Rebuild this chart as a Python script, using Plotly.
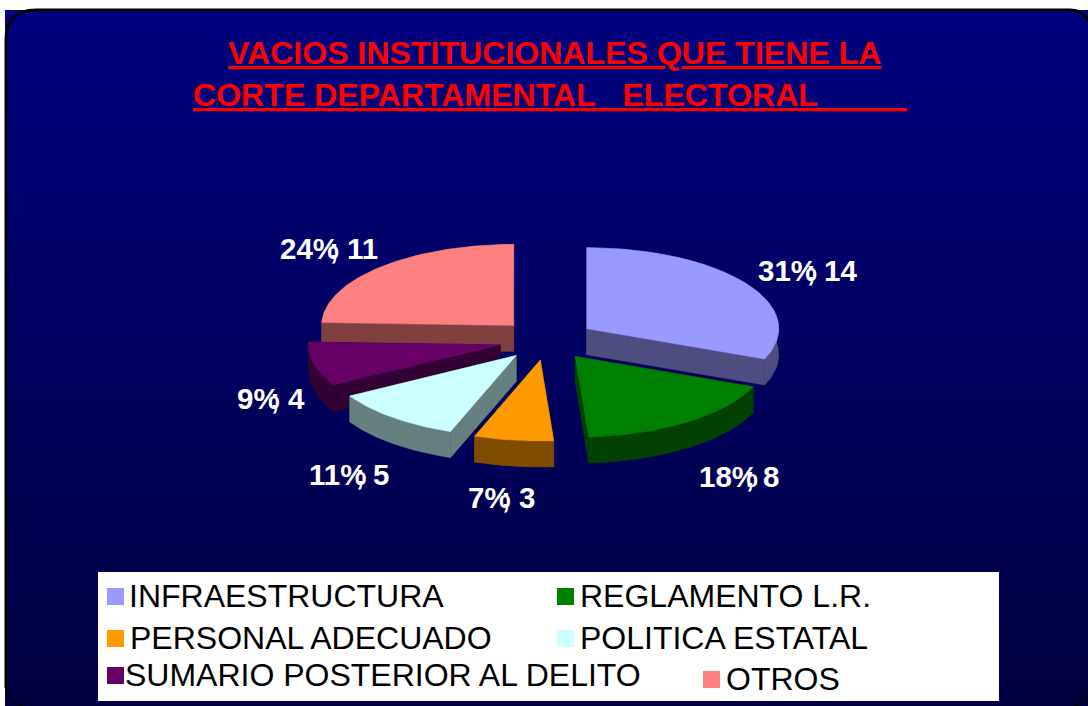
"""Torta 3D separada: vacios institucionales de la corte departamental electoral."""

import numpy as np
import plotly.graph_objects as go

CATEGORIES = [
    "INFRAESTRUCTURA", "REGLAMENTO L.R.", "PERSONAL ADECUADO",
    "POLITICA ESTATAL", "SUMARIO POSTERIOR AL DELITO", "OTROS",
]
VALUES = [14, 8, 3, 5, 4, 11]
TOP_COLORS = ["#9999FF", "#008000", "#FF9900", "#CCFFFF", "#660066", "#FF8080"]
SIDE_COLORS = ["#4D4D80", "#004000", "#804C00", "#668080", "#330033", "#804040"]
TITLE_LINES = [
    "VACIOS INSTITUCIONALES QUE TIENE LA",
    "CORTE DEPARTAMENTAL\u00a0\u00a0\u00a0ELECTORAL" + "\u00a0" * 10,
]

# Geometrie du camembert, en pixels de la page
CX, CY = 547, 340
RX, RY = 192, 81
DEPTH = 26
EXPLODE = 0.25

LABEL_POS = [(757, 858, 270), (698, 780, 476), (467, 536, 497),
             (308, 390, 474), (236, 306, 398), (279, 379, 248)]
LEGEND_POS = [(107, 128, 596), (557, 579, 596), (107, 129, 638),
              (557, 579, 638), (107, 124, 675), (703, 725, 679)]
DRAW_ORDER = [5, 0, 4, 1, 3, 2]  # de l'arriere vers l'avant


def point(cx, cy, angle):
    return cx + RX * np.sin(angle), cy - RY * np.cos(angle)


def polygon(fig, xs, ys, color, name):
    fig.add_trace(go.Scatter(
        x=xs, y=ys, mode="lines", fill="toself", fillcolor=color,
        line=dict(color=color, width=0.5), name=name, hoverinfo="name",
    ))


fig = go.Figure()

# Fond degrade
n_rows = 174
fig.add_trace(go.Heatmap(
    z=np.arange(n_rows)[:, None], x=[5, 1088], y=np.linspace(10, 706, n_rows + 1),
    colorscale=[[0, "#000080"], [1, "#000040"]], showscale=False, hoverinfo="skip",
))

total = sum(VALUES)
edges = np.cumsum([0] + VALUES) / total * 2 * np.pi

for i in DRAW_ORDER:
    a0, a1 = edges[i], edges[i + 1]
    mid = (a0 + a1) / 2
    ax = CX + EXPLODE * RX * np.sin(mid)
    ay = CY - EXPLODE * RY * np.cos(mid)
    arc = np.linspace(a0, a1, 80)
    ex, ey = point(ax, ay, arc)

    # Les faces laterales passent sous la face superieure
    for edge_x, edge_y in ((ex[0], ey[0]), (ex[-1], ey[-1])):
        polygon(fig, [ax, edge_x, edge_x, ax, ax],
                [ay, edge_y, edge_y + DEPTH, ay + DEPTH, ay], SIDE_COLORS[i], CATEGORIES[i])
    polygon(fig, np.r_[ex, ex[::-1], ex[0]], np.r_[ey, ey[::-1] + DEPTH, ey[0]],
            SIDE_COLORS[i], CATEGORIES[i])
    polygon(fig, np.r_[ax, ex, ax], np.r_[ay, ey, ay], TOP_COLORS[i], CATEGORIES[i])

shapes = [
    # Cadre noir arrondi
    dict(type="path", path="M 6 688 L 6 40 Q 6 10 36 10 L 1070 10 Q 1082 10 1088 20",
         line=dict(color="black", width=3), layer="above"),
    dict(type="path", path="M 6 688 Q 8 700 22 706", line=dict(color="black", width=1.5), layer="above"),
    dict(type="path", path="M 1088 695 Q 1082 702 1075 706", line=dict(color="black", width=1.5), layer="above"),
    # Cuadro de la leyenda
    dict(type="rect", x0=98, x1=999, y0=572, y1=701, fillcolor="white",
         line=dict(color="white", width=0), layer="above"),
]

annotations = []


def add_text(x, y, text, size, color, anchor="left", bold=False):
    annotations.append(dict(
        x=x, y=y, text=f"<b>{text}</b>" if bold else text, showarrow=False,
        xanchor=anchor, yanchor="middle", borderpad=0,
        font=dict(family="Liberation Sans, Arial, sans-serif", size=size, color=color),
    ))


add_text(227, 53, f"<u>{TITLE_LINES[0]}</u>", 32.1, "#FF0000", bold=True)
add_text(192, 95, f"<u>{TITLE_LINES[1]}</u>", 32.1, "#FF0000", bold=True)

for value, (x_left, x_right, y) in zip(VALUES, LABEL_POS):
    pct = round(100 * value / total)
    add_text(x_left, y, f"{pct}%", 29.5, "white", bold=True)
    add_text(x_right, y, f"; {value}", 29.5, "white", anchor="right", bold=True)

for name, color, (x_box, x_text, y) in zip(CATEGORIES, TOP_COLORS, LEGEND_POS):
    shapes.append(dict(type="rect", x0=x_box, x1=x_box + 17, y0=y - 8, y1=y + 9,
                       fillcolor=color, line=dict(width=0), layer="above"))
    add_text(x_text, y, name, 32, "#000000")

fig.update_layout(
    width=1088, height=706, margin=dict(l=0, r=0, t=0, b=0),
    paper_bgcolor="white", plot_bgcolor="white", showlegend=False,
    xaxis=dict(range=[0, 1088], visible=False, fixedrange=True),
    yaxis=dict(range=[706, 0], visible=False, fixedrange=True),
    shapes=shapes, annotations=annotations,
)
# la page doit coller au bord de la fenetre
fig.write_html("out.html", config={"displayModeBar": False},
               post_script="document.body.style.margin = '0'; document.body.style.overflow = 'hidden';")
